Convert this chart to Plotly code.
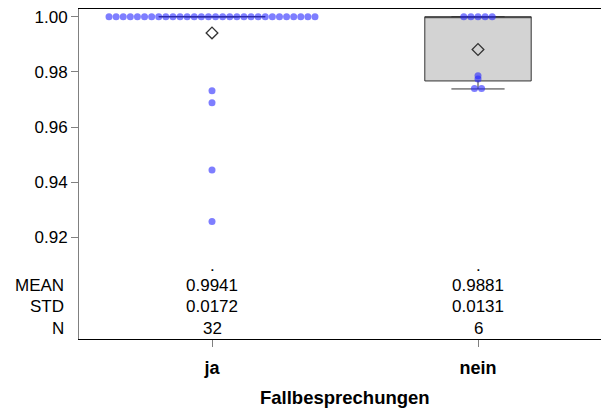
import plotly.graph_objects as go

# Groups on the x axis
groups = ["ja", "nein"]

# Observed values per group as (level, count) pairs
ja_levels = [1.00, 0.9731, 0.9688, 0.9444, 0.9257]
ja_counts = [30, 1, 1, 1, 1]
nein_levels = [1.00, 0.9786, 0.9774, 0.9740]
nein_counts = [5, 1, 1, 2]

# Box statistics per group
q1 = [1.00, 0.9767]
median = [1.00, 1.00]
q3 = [1.00, 1.00]
lower_fence = [1.00, 0.9738]
upper_fence = [1.00, 1.00]

# Summary table rows
mean_vals = [0.9941, 0.9881]
std_vals = [0.0172, 0.0131]
n_vals = [32, 6]

FONT = "Arial, Liberation Sans, sans-serif"
DOT_STEP = 0.0267  # horizontal spacing of stacked dots, in x units

fig = go.Figure()

# Boxes
fig.add_trace(go.Box(
    x=list(range(len(groups))), q1=q1, median=median, q3=q3,
    lowerfence=lower_fence, upperfence=upper_fence,
    width=0.4, whiskerwidth=0.5, boxpoints=False,
    fillcolor="#d3d3d3", line=dict(color="#333333", width=1),
    hoverinfo="skip", showlegend=False,
))

# Dot rows: identical values are spread side by side around the group centre
def dot_positions(center, levels, counts):
    xs, ys = [], []
    for lvl, cnt in zip(levels, counts):
        for i in range(cnt):
            xs.append(center + (i - (cnt - 1) / 2) * DOT_STEP)
            ys.append(lvl)
    return xs, ys

for idx, (levels, counts) in enumerate([(ja_levels, ja_counts), (nein_levels, nein_counts)]):
    xs, ys = dot_positions(idx, levels, counts)
    fig.add_trace(go.Scatter(
        x=xs, y=ys, mode="markers",
        marker=dict(size=7, color="rgba(40,40,255,0.6)", line=dict(width=0)),
        showlegend=False, hoverinfo="skip",
    ))

# Mean markers
fig.add_trace(go.Scatter(
    x=list(range(len(groups))), y=mean_vals, mode="markers",
    marker=dict(symbol="diamond-open", size=9, color="#333333", line=dict(width=1.3)),
    showlegend=False, hoverinfo="skip",
))

# Summary table below the data
def py(pixel_y):
    # pixel row -> paper coordinate of the plot area (top 9, bottom 339)
    return (339 - pixel_y) / 330

rows = [(".", [".", "."], 265), ("MEAN", [f"{v:.4f}" for v in mean_vals], 285),
        ("STD", [f"{v:.4f}" for v in std_vals], 306.5), ("N", [str(v) for v in n_vals], 328)]
annotations = []
for label, vals, ypix in rows:
    if label != ".":
        annotations.append(dict(text=label, xref="paper", yref="paper", x=0, y=py(ypix),
                                xanchor="right", yanchor="middle", xshift=-13, showarrow=False,
                                font=dict(family=FONT, size=17, color="black")))
    for i, v in enumerate(vals):
        annotations.append(dict(text=v, xref="x", yref="paper", x=i, y=py(ypix),
                                xanchor="center", yanchor="middle", showarrow=False,
                                font=dict(family=FONT, size=17, color="black")))

annotations.append(dict(text="<b>Fallbesprechungen</b>", xref="x", yref="paper", x=0.5, y=py(397),
                        xanchor="center", yanchor="middle", showarrow=False,
                        font=dict(family=FONT, size=18.5, color="black")))

fig.update_layout(
    width=601, height=412,
    margin=dict(l=79, r=0, t=9, b=73),
    paper_bgcolor="white", plot_bgcolor="white",
    annotations=annotations,
    xaxis=dict(
        range=[-0.5, 1.4624], tickvals=list(range(len(groups))),
        ticktext=[f"<b>{g}</b>" for g in groups],
        tickfont=dict(family=FONT, size=18, color="black"),
        ticks="outside", ticklen=7, tickcolor="#808080",
        ticklabelstandoff=5,
        showline=True, linecolor="black", linewidth=1, mirror=True,
        showgrid=False, zeroline=False,
    ),
    yaxis=dict(
        range=[0.88312, 1.00279],
        tickvals=[0.92, 0.94, 0.96, 0.98, 1.00], ticktext=["0.92", "0.94", "0.96", "0.98", "1.00"],
        tickfont=dict(family=FONT, size=17, color="black"),
        ticks="outside", ticklen=7, tickcolor="#808080",
        showline=True, linecolor="#808080", linewidth=1,
        showgrid=False, zeroline=False,
    ),
)

fig.write_html("out.html")
